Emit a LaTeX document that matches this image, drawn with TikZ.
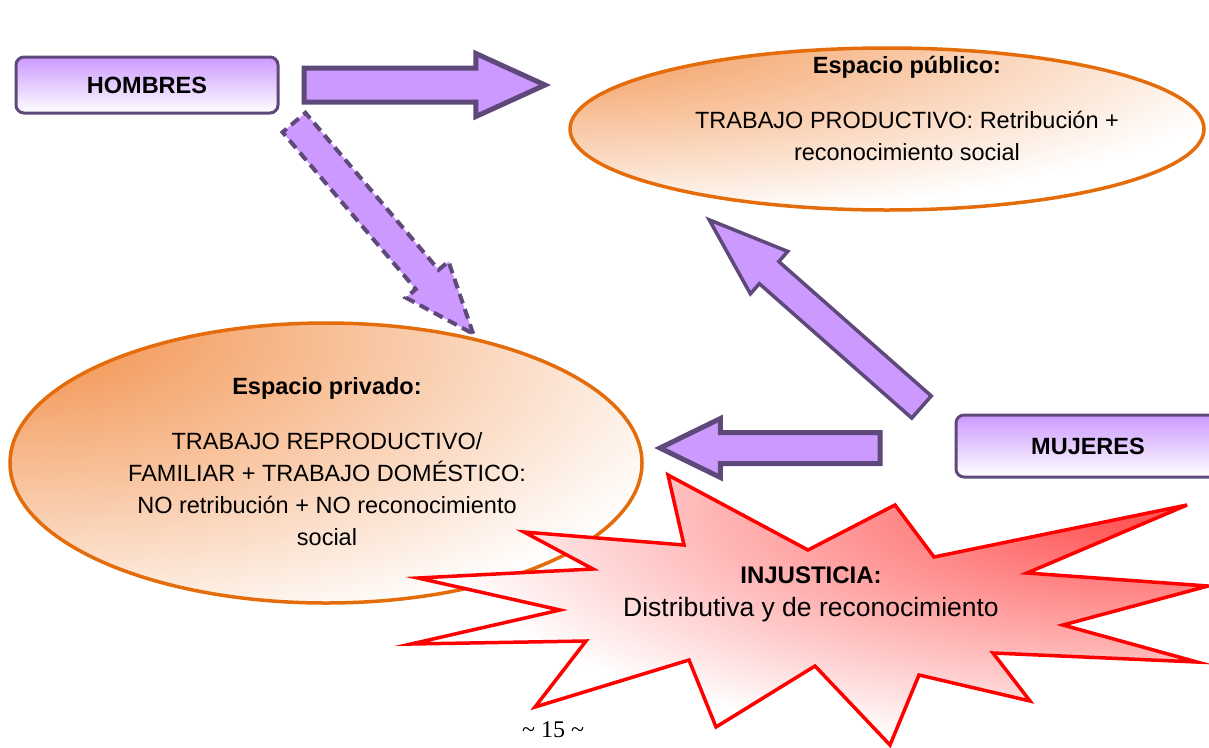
\documentclass[tikz,border=0pt]{standalone}
\usepackage{fontspec}
\setmainfont{Liberation Sans}
\newfontfamily\paginafont{Liberation Serif}
\usetikzlibrary{shapes.geometric,shapes.arrows}

\definecolor{lila}{RGB}{204,153,255}
\definecolor{lilaborde}{RGB}{95,73,122}
\definecolor{naranja}{RGB}{228,108,10}
\definecolor{melocoton}{RGB}{244,160,100}
\definecolor{rosa}{RGB}{255,90,90}

\pgfdeclareradialshading{brilloPub}{\pgfpoint{-31bp}{35bp}}{color(0bp)=(melocoton); color(12bp)=(melocoton); color(57bp)=(white); color(300bp)=(white)}
\pgfdeclareradialshading{brilloPriv}{\pgfpoint{-26bp}{25bp}}{color(0bp)=(melocoton); color(10bp)=(melocoton); color(54bp)=(white); color(300bp)=(white)}
\pgfdeclareradialshading{brilloRojo}{\pgfpoint{23bp}{21bp}}{color(0bp)=(rosa); color(6bp)=(rosa); color(44bp)=(white); color(300bp)=(white)}

\tikzset{
  caja/.style={draw=lilaborde, line width=3pt, rounded corners=8pt, top color=lila, bottom color=white,
    minimum height=56, font=\bfseries\fontsize{23.5}{28}\selectfont},
  espacio/.style={ellipse, draw=naranja, line width=3.5pt, inner sep=0pt, shade},
  texto/.style={align=center, inner sep=0pt, font=\fontsize{23.5}{32}\selectfont},
  flecha/.style={single arrow, draw=lilaborde, fill=lila, line width=#1, inner xsep=0pt, outer sep=0pt, anchor=tail},
  estrella/.style={draw=red, line width=3.5pt, shade, shading=brilloRojo}
}

\begin{document}
\begin{tikzpicture}[x=1pt,y=1pt,yscale=-1]
\useasboundingbox (0,0) rectangle (1209,747);
\fill[white] (0,0) rectangle (1209,747);

% espacios
\node[espacio, shading=brilloPub, minimum width=634, minimum height=162] (publico) at (887,129) {};
\node[espacio, shading=brilloPriv, minimum width=632, minimum height=280] (privado) at (326,463) {};
\node[texto] (publicoTxt) at (907,108) {\textbf{Espacio público:}\\[23pt]TRABAJO PRODUCTIVO: Retribución +\\reconocimiento social};
\node[texto] (privadoTxt) at (327,462) {\textbf{Espacio privado:}\\[23pt]TRABAJO REPRODUCTIVO/\\FAMILIAR + TRABAJO DOMÉSTICO:\\NO retribución + NO reconocimiento\\social};

% personas
\node[caja, minimum width=262] (hombres) at (147,85) {HOMBRES};
\node[caja, minimum width=264, minimum height=62] (mujeres) at (1088,446) {MUJERES};

% flechas
\node[flecha=5pt, minimum height=241, inner ysep=14.5, single arrow head extend=14.5, single arrow tip angle=49] (flecha1) at (304,85) {};
\node[flecha=4pt, dash pattern=on 10pt off 6pt, minimum height=277, inner ysep=13, single arrow head extend=13, single arrow tip angle=43, rotate=-49.7] (flecha2) at (294,122.5) {};
\node[flecha=3.5pt, minimum height=283, inner ysep=13, single arrow head extend=13.5, single arrow tip angle=39, rotate=138.6] (flecha3) at (921.5,407) {};
\node[flecha=5pt, minimum height=220, inner ysep=13, single arrow head extend=14, single arrow tip angle=52, rotate=180] (flecha4) at (880,448) {};

% injusticia
\draw[estrella] (668,475) -- (808,550) -- (895,505) -- (934,557) -- (1187,505) -- (1027,573)
  -- (1208,586) -- (1063,625) -- (1197,662) -- (993,653) -- (1030,701) -- (919,675)
  -- (890,745) -- (815,666) -- (716,727) -- (689,660) -- (535,707) -- (586,641)
  -- (411,644) -- (560,610) -- (418,578) -- (593,569) -- (524,532) -- (684,545) -- cycle;
\node[align=center, inner sep=0pt, font=\fontsize{26.5}{33}\selectfont] (injusticia) at (811,594)
  {{\bfseries\fontsize{24}{33}\selectfont INJUSTICIA:}\\Distributiva y de reconocimiento};

\node[font=\paginafont\fontsize{24}{28}\selectfont] (pagina) at (553,730) {\textasciitilde\ 15 \textasciitilde};
\end{tikzpicture}
\end{document}
